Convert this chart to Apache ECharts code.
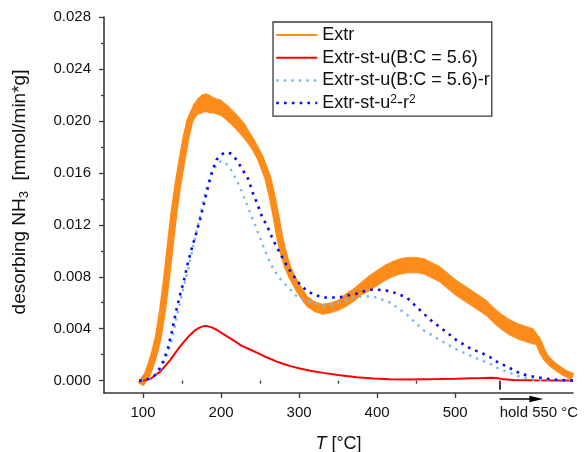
<!DOCTYPE html>
<html><head><meta charset="utf-8">
<script src="https://cdn.jsdelivr.net/npm/echarts@6/dist/echarts.min.js"></script>
<style>html,body{margin:0;padding:0;background:#fff}#c{width:585px;height:452px}</style>
</head><body><div id="c"></div>
<script>
// ---- data ----
const seriesNames = ['Extr', 'Extr-st-u(B:C = 5.6)', 'Extr-st-u(B:C = 5.6)-r', 'Extr-st-u\u00b2-r\u00b2'];
const xTicks = [100, 200, 300, 400, 500];
const xMinorTicks = [150, 250, 350, 450];
const holdTick = [557];
const holdLabel = 'hold 550 \u00b0C';
const yTicks = [0, 0.004, 0.008, 0.012, 0.016, 0.020, 0.024, 0.028];
const yMinorTicks = [0.002, 0.006, 0.010, 0.014, 0.018, 0.022, 0.026];

const extrT = [97,100,105,110,115,120,125,130,135,140,145,150,155,160,165,170,175,180,185,190,200,210,220,230,240,250,260,265,270,275,280,285,290,300,310,320,330,340,350,360,370,380,390,400,410,420,430,440,450,460,470,480,490,500,510,520,530,540,550,560,570,580,590,600,605,608,612,616,622,630,640,651];
const extrV = [-0.0003,0.0000,0.0004,0.0012,0.0022,0.0035,0.0054,0.0078,0.0105,0.0131,0.0152,0.0170,0.0187,0.0200,0.0207,0.0211,0.0213,0.0214,0.0213,0.0212,0.0210,0.0205,0.0199,0.0192,0.0183,0.0172,0.0156,0.0143,0.0128,0.0111,0.0098,0.0088,0.0081,0.0070,0.0061,0.0057,0.0055,0.0056,0.0058,0.0062,0.0066,0.0071,0.0075,0.0079,0.0083,0.0086,0.0088,0.0089,0.0089,0.0088,0.0085,0.0082,0.0077,0.0072,0.0068,0.0064,0.0060,0.0056,0.0050,0.0045,0.0041,0.0038,0.0036,0.0034,0.0032,0.0028,0.0022,0.0018,0.0014,0.0010,0.0006,0.0003];
// half-width of the noisy band of the Extr trace
const extrNoise = [0,0,0,0,0,0,0,0,0,0.0001,0.0002,0.0003,0.0004,0.0005,0.0006,0.0006,0.0007,0.0007,0.0007,0.0006,0.0006,0.0006,0.0006,0.0006,0.0005,0.0005,0.0004,0.0003,0.0003,0.0003,0.0003,0.0003,0.0003,0.0004,0.0004,0.0004,0.0004,0.0004,0.0004,0.0005,0.0005,0.0005,0.0006,0.0006,0.0006,0.0006,0.0006,0.0006,0.0006,0.0006,0.0006,0.0006,0.0006,0.0006,0.0006,0.0006,0.0006,0.0006,0.0006,0.0006,0.0006,0.0006,0.0006,0.0006,0.0004,0.0002,0.0001,0,0,0,0,0];

const redT = [96,100,105,110,115,122,128,135,141,147,154,160,167,173,178,182,188,195,205,216,226,237,248,259,270,280,290,301,316,331,350,374,395,417,440,459,480,502,520,535,548,555,562,575,600,625,651];
const redV = [0,0.00002,0.00006,0.00015,0.0004,0.0007,0.0011,0.0016,0.0021,0.0026,0.0031,0.0035,0.0039,0.0041,0.0042,0.0042,0.0041,0.0039,0.0035,0.0031,0.0027,0.0024,0.0021,0.00178,0.0015,0.00128,0.0011,0.00094,0.00075,0.0006,0.00043,0.00027,0.00017,0.00011,0.00008,0.0001,0.00012,0.00015,0.00018,0.0002,0.00022,0.00018,0.0001,0.00005,0.00003,0.00002,0.00002];

const lbT = [97,105,110,115,120,125,130,135,140,145,150,155,160,165,170,175,180,185,190,195,200,205,210,215,220,225,230,235,240,245,250,255,260,267,275,284,297,310,331,350,370,387,400,417,438,459,481,502,524,545,553,566,583,600,620,651];
const lbV = [0,0.0001,0.0002,0.0004,0.0007,0.0012,0.0019,0.0027,0.0040,0.0054,0.0067,0.0079,0.0092,0.0105,0.0119,0.0132,0.0145,0.0155,0.0162,0.0167,0.0169,0.0168,0.0165,0.0160,0.0154,0.0148,0.0140,0.0133,0.0125,0.0118,0.0110,0.0102,0.0095,0.0086,0.0079,0.0073,0.0065,0.0061,0.0058,0.0060,0.0064,0.0065,0.0064,0.0060,0.0051,0.0039,0.0031,0.0024,0.0018,0.0013,0.0010,0.0007,0.0003,0.0001,0.00002,0];

const dbT = [95,100,105,110,115,120,126,132,137,143,147,152,158,163,167,173,178,182,188,194,200,206,212,220,228,235,241,246,252,259,267,280,290,300,310,320,331,350,374,390,400,417,438,459,470,481,494,502,519,535,545,555,566,585,605,626,651];
const dbV = [0,0,0.0001,0.0002,0.0004,0.0008,0.0015,0.0025,0.0038,0.0055,0.0065,0.0076,0.0092,0.0103,0.0111,0.0124,0.0136,0.0146,0.0160,0.0170,0.0174,0.0176,0.0175,0.0170,0.0162,0.0155,0.0144,0.0137,0.0127,0.0119,0.0108,0.0093,0.0083,0.0075,0.0069,0.0066,0.0064,0.0064,0.0067,0.0070,0.0070,0.0069,0.0064,0.0052,0.0046,0.0041,0.0035,0.0031,0.0025,0.0021,0.0018,0.0014,0.0011,0.0005,0.00026,0.00008,0];

const xMin = 50, xMax = 651, yMin = -0.00095, yMax = 0.028;
const arrowEndT = 613;

// ---- build ----
const zip = (a, b) => a.map((t, i) => [t, b[i]]);
const FONT = 'Liberation Sans, Arial, sans-serif';
const AX = '#3a3a3a';
const colors = ['#fd8b1a', '#ff0000', '#7ab9f4', '#0a0af0'];

const bandData = extrT.map((t, i) => [t, extrV[i] - extrNoise[i], extrV[i] + extrNoise[i]]);

const chart = echarts.init(document.getElementById('c'), null, {renderer: 'canvas'});

const baseX = {type: 'value', min: xMin, max: xMax, gridIndex: 0, position: 'bottom', splitLine: {show: false}};
const baseY = {type: 'value', min: yMin, max: yMax, gridIndex: 0, position: 'left', splitLine: {show: false}};

const option = {
  animation: false,
  textStyle: {fontFamily: FONT},
  grid: {left: 104, right: 12, top: 17, bottom: 59, containLabel: false, outerBoundsMode: 'none'},
  xAxis: [
    Object.assign({}, baseX, {
      axisLine: {show: true, onZero: false, lineStyle: {color: AX, width: 1.6}},
      axisTick: {show: true, customValues: xTicks, length: 5, lineStyle: {color: AX, width: 1.3}},
      axisLabel: {show: true, customValues: xTicks, margin: 12, fontSize: 15, color: '#111', fontFamily: FONT},
      name: '{i|T} [\u00b0C]', nameLocation: 'middle', nameGap: 42,
      nameTextStyle: {fontSize: 18, color: '#111', fontFamily: FONT, rich: {i: {fontStyle: 'italic', fontSize: 18, fontFamily: FONT, color: '#111'}}}
    }),
    Object.assign({}, baseX, {
      axisLine: {show: false},
      axisTick: {show: true, customValues: xMinorTicks, length: 3, lineStyle: {color: AX, width: 1.3}},
      axisLabel: {show: false}
    }),
    Object.assign({}, baseX, {
      axisLine: {show: false},
      axisTick: {show: true, customValues: holdTick, length: 9, lineStyle: {color: '#000', width: 1.5}},
      axisLabel: {show: true, customValues: holdTick, formatter: () => holdLabel, align: 'left', margin: 12, fontSize: 15, color: '#111', fontFamily: FONT}
    })
  ],
  yAxis: [
    Object.assign({}, baseY, {
      axisLine: {show: true, onZero: false, lineStyle: {color: AX, width: 1.6}},
      axisTick: {show: true, customValues: yTicks, length: 5, lineStyle: {color: AX, width: 1.3}},
      axisLabel: {show: true, customValues: yTicks, formatter: v => v.toFixed(3), margin: 13, fontSize: 15, color: '#111', fontFamily: FONT},
      name: '{n|desorbing NH}{s|3}{n|  [mmol/min*g]}', nameLocation: 'middle', nameGap: 73, nameRotate: 90,
      nameTextStyle: {fontSize: 19, color: '#111', fontFamily: FONT, padding: [0, 0, 0, 26],
        rich: {n: {fontSize: 19, fontFamily: FONT, color: '#111', lineHeight: 23},
               s: {fontSize: 13, fontFamily: FONT, color: '#111', verticalAlign: 'bottom', lineHeight: 13}}}
    }),
    Object.assign({}, baseY, {
      axisLine: {show: false},
      axisTick: {show: true, customValues: yMinorTicks, length: 3, lineStyle: {color: AX, width: 1.3}},
      axisLabel: {show: false}
    })
  ],
  legend: {
    orient: 'vertical', left: 273, top: 22,
    padding: [3.5, 2, 3.5, 2], itemWidth: 41, itemHeight: 18, itemGap: 3.7,
    borderColor: '#3a3a3a', borderWidth: 1.3, backgroundColor: '#fff',
    itemStyle: {opacity: 0},
    textStyle: {fontSize: 18, fontFamily: FONT, color: '#111', lineHeight: 19,
      rich: {n: {fontSize: 18, fontFamily: FONT, color: '#111', lineHeight: 19},
             s: {fontSize: 12, fontFamily: FONT, color: '#111', verticalAlign: 'top', lineHeight: 12}}},
    formatter: name => name === seriesNames[3] ? '{n|Extr-st-u}{s|2}{n|-r}{s|2}' : name,
    data: [
      {name: seriesNames[0], lineStyle: {width: 2}},
      {name: seriesNames[1], lineStyle: {width: 2}},
      {name: seriesNames[2], lineStyle: {width: 2.5}},
      {name: seriesNames[3], lineStyle: {width: 2.5}}
    ]
  },
  series: [
    {name: '_extrBand', type: 'custom', silent: true, clip: true, z: 1,
     data: bandData, encode: {x: 0, y: [1, 2]},
     renderItem: (params, api) => {
       const i = params.dataIndex;
       if (i >= bandData.length - 1) return null;
       const a = bandData[i], b = bandData[i + 1];
       const pts = [api.coord([a[0], a[1]]), api.coord([b[0], b[1]]), api.coord([b[0], b[2]]), api.coord([a[0], a[2]])];
       return {type: 'polygon', shape: {points: pts}, style: {fill: colors[0], stroke: colors[0], lineWidth: 0.6}};
     }},
    {name: seriesNames[0], type: 'line', symbol: 'none', data: zip(extrT, extrV), z: 2,
     itemStyle: {color: colors[0]}, lineStyle: {color: colors[0], width: 7, join: 'round'}},
    {name: seriesNames[1], type: 'line', symbol: 'none', data: zip(redT, redV), z: 3,
     itemStyle: {color: colors[1]}, lineStyle: {color: colors[1], width: 2}},
    {name: seriesNames[2], type: 'line', symbol: 'none', data: zip(lbT, lbV), z: 4,
     itemStyle: {color: colors[2]}, lineStyle: {color: colors[2], width: 2.4, type: [2.5, 5]}},
    {name: seriesNames[3], type: 'line', symbol: 'none', data: zip(dbT, dbV), z: 5,
     itemStyle: {color: colors[3]}, lineStyle: {color: colors[3], width: 2.6, type: [2.6, 5.2]}}
  ]
};
chart.setOption(option);

// arrow for the hold period, positioned through the axis scale
const ax0 = chart.convertToPixel({xAxisIndex: 0}, holdTick[0]);
const ax1 = chart.convertToPixel({xAxisIndex: 0}, arrowEndT);
const ay = chart.convertToPixel({yAxisIndex: 0}, yMin) + 6;
chart.setOption({graphic: [
  {type: 'line', shape: {x1: ax0, y1: ay, x2: ax1 - 12, y2: ay}, style: {stroke: '#000', lineWidth: 1.6}, z: 10},
  {type: 'polygon', shape: {points: [[ax1 - 14, ay - 3.2], [ax1, ay], [ax1 - 14, ay + 3.2]]}, style: {fill: '#000'}, z: 10}
]});
</script>
</body></html>
